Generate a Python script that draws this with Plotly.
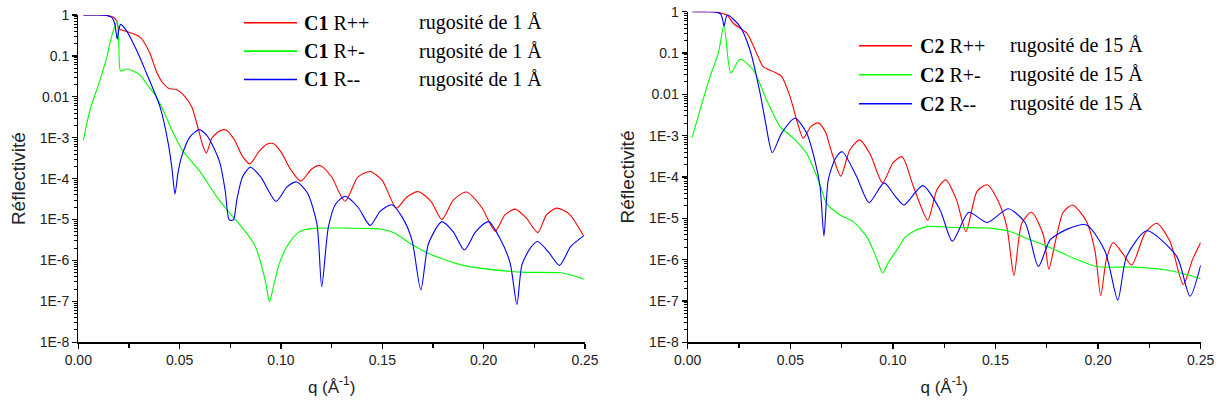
import plotly.graph_objects as go

# ---------------- data ----------------
# Left panel : C1, roughness 1 Å
c1_pp_q = [0.0025, 0.010, 0.015, 0.0175, 0.0190, 0.0198, 0.0210, 0.0250, 0.0305, 0.0350,
           0.0387, 0.0415, 0.0445, 0.0486, 0.0527, 0.0560, 0.0590, 0.0615, 0.0632, 0.0660,
           0.0700, 0.0729, 0.0770, 0.0810, 0.0847, 0.0890, 0.0930, 0.0962, 0.1000, 0.1050,
           0.1098, 0.1150, 0.1193, 0.1250, 0.1316, 0.1380, 0.1440, 0.1500, 0.1570, 0.1620,
           0.1678, 0.1740, 0.1794, 0.1850, 0.1914, 0.1990, 0.2057, 0.2105, 0.2155, 0.2210,
           0.2267, 0.2310, 0.2360, 0.2420, 0.2493]
c1_pp_r = [1.0, 1.0, 0.955, 0.871, 0.708, 0.479, 0.437, 0.380, 0.288, 0.126,
           0.0398, 0.0224, 0.0162, 0.0148, 0.0100, 0.00562, 0.00178, 6.3e-4, 4.2e-4, 1.0e-3,
           1.48e-3, 1.55e-3, 8.9e-4, 3.5e-4, 2.3e-4, 4.5e-4, 6.9e-4, 7.2e-4, 4.5e-4, 1.6e-4,
           8.7e-5, 1.7e-4, 2.1e-4, 1.1e-4, 2.8e-5, 1.1e-4, 1.5e-4, 8.9e-5, 1.9e-5, 3.5e-5,
           4.8e-5, 2.8e-5, 1.0e-5, 3.0e-5, 4.7e-5, 2.0e-5, 5.2e-6, 1.3e-5, 1.8e-5, 1.1e-5,
           4.8e-6, 1.3e-5, 1.9e-5, 1.4e-5, 4.0e-6]

c1_pm_q = [0.0025, 0.0058, 0.0107, 0.0140, 0.0156, 0.0175, 0.0192, 0.0200, 0.0209, 0.0239,
           0.0270, 0.0305, 0.0340, 0.0387, 0.0430, 0.0469, 0.0518, 0.0600, 0.0683, 0.0750,
           0.0831, 0.0870, 0.0897, 0.0925, 0.0943, 0.0960, 0.0987, 0.1015, 0.1045, 0.1090,
           0.1144, 0.1300, 0.1440, 0.1490, 0.1555, 0.1650, 0.1740, 0.1818, 0.1900, 0.1980,
           0.2180, 0.2378, 0.2440, 0.2493]
c1_pm_r = [8.7e-4, 4.8e-3, 0.0257, 0.0891, 0.204, 0.447, 0.724, 0.178, 0.0427, 0.0479,
           0.0427, 0.0339, 0.0200, 0.00977, 0.00355, 1.29e-3, 4.6e-4, 1.5e-4, 3.6e-5, 1.4e-5,
           4.6e-6, 2.4e-6, 1.0e-6, 2.8e-7, 9.8e-8, 2.0e-7, 7.1e-7, 1.6e-6, 2.9e-6, 5.0e-6,
           6.0e-6, 6.2e-6, 6.0e-6, 5.9e-6, 4.8e-6, 2.4e-6, 1.4e-6, 1.0e-6, 7.6e-7, 6.5e-7,
           5.2e-7, 5.0e-7, 4.3e-7, 3.5e-7]

c1_mm_q = [0.0025, 0.010, 0.014, 0.0165, 0.0180, 0.0192, 0.0200, 0.0209, 0.0240, 0.0271,
           0.0305, 0.0337, 0.0370, 0.0403, 0.0444, 0.0462, 0.0477, 0.0492, 0.0510, 0.0551,
           0.0596, 0.0635, 0.0666, 0.0700, 0.0725, 0.0745, 0.0765, 0.0782, 0.0810, 0.0849,
           0.0900, 0.0976, 0.1030, 0.1078, 0.1130, 0.1177, 0.1201, 0.1234, 0.1270, 0.1316,
           0.1380, 0.1440, 0.1490, 0.1547, 0.1600, 0.1646, 0.1690, 0.1728, 0.1794, 0.1850,
           0.1905, 0.1960, 0.2024, 0.2080, 0.2130, 0.2164, 0.2189, 0.2230, 0.2266, 0.2320,
           0.2374, 0.2430, 0.2493]
c1_mm_r = [1.0, 1.0, 0.977, 0.871, 0.603, 0.257, 0.447, 0.589, 0.398, 0.204,
           0.0891, 0.0372, 0.0151, 0.00575, 7.2e-4, 1.8e-4, 4.2e-5, 1.4e-4, 3.5e-4, 1.05e-3,
           1.58e-3, 1.12e-3, 6.0e-4, 2.3e-4, 5.0e-5, 9.8e-6, 9.8e-6, 3.0e-5, 1.1e-4, 1.9e-4,
           1.1e-4, 2.8e-5, 6.3e-5, 8.3e-5, 4.5e-5, 8.1e-6, 2.3e-7, 6.6e-6, 2.4e-5, 3.7e-5,
           2.0e-5, 7.2e-6, 1.6e-5, 2.3e-5, 1.1e-5, 3.2e-6, 1.9e-7, 2.6e-6, 8.9e-6, 5.0e-6,
           1.8e-6, 5.0e-6, 8.9e-6, 3.5e-6, 8.9e-7, 8.5e-8, 7.9e-7, 2.0e-6, 2.9e-6, 1.6e-6,
           7.6e-7, 2.2e-6, 4.0e-6]

# Right panel : C2, roughness 15 Å
c2_pp_q = [0.0022, 0.010, 0.0140, 0.0165, 0.0193, 0.0222, 0.0288, 0.0336, 0.0368, 0.0417,
           0.0458, 0.0499, 0.0531, 0.0563, 0.0600, 0.0636, 0.0670, 0.0705, 0.0746, 0.0790,
           0.0838, 0.0890, 0.0950, 0.1000, 0.1045, 0.1100, 0.1170, 0.1215, 0.1258, 0.1310,
           0.1356, 0.1410, 0.1460, 0.1510, 0.1555, 0.1590, 0.1628, 0.1676, 0.1733, 0.1760,
           0.1790, 0.1830, 0.1876, 0.1944, 0.1985, 0.2013, 0.2040, 0.2074, 0.2120, 0.2164,
           0.2230, 0.2286, 0.2350, 0.2415, 0.2460, 0.2500]
c2_pp_r = [1.0, 1.0, 0.977, 0.912, 0.813, 0.525, 0.302, 0.0977, 0.0468, 0.0355,
           0.0269, 0.00871, 0.0024, 8.7e-4, 1.66e-3, 2.04e-3, 1.26e-3, 3.5e-4, 1.05e-4, 4.5e-4,
           7.9e-4, 3.5e-4, 7.2e-5, 2.2e-4, 3.1e-4, 5.9e-5, 9.1e-6, 5.0e-5, 8.5e-5, 2.8e-5,
           4.8e-6, 4.5e-5, 6.5e-5, 2.8e-5, 6.3e-6, 4.1e-7, 7.6e-6, 1.4e-5, 4.0e-6, 5.9e-7,
           2.5e-6, 1.4e-5, 2.1e-5, 8.3e-6, 1.6e-6, 1.35e-7, 1.0e-6, 2.6e-6, 1.4e-6, 7.4e-7,
           4.5e-6, 7.6e-6, 2.8e-6, 2.5e-7, 1.0e-6, 2.6e-6]

c2_pm_q = [0.0022, 0.0060, 0.0109, 0.0149, 0.0177, 0.0210, 0.0255, 0.0320, 0.0385, 0.0450,
           0.0515, 0.0580, 0.0645, 0.0677, 0.0742, 0.0807, 0.0872, 0.0920, 0.0950, 0.0980,
           0.1019, 0.1060, 0.1100, 0.1165, 0.1300, 0.1473, 0.1570, 0.1650, 0.1733, 0.1879,
           0.1993, 0.2172, 0.2334, 0.2420, 0.2500]
c2_pm_r = [9.1e-4, 4.17e-3, 0.0269, 0.0977, 0.479, 0.0331, 0.0708, 0.0389, 0.00724, 1.66e-3,
           8.7e-4, 3.7e-4, 6.5e-5, 2.3e-5, 1.2e-5, 8.3e-6, 3.6e-6, 1.1e-6, 4.8e-7, 8.9e-7,
           1.7e-6, 3.5e-6, 4.8e-6, 6.3e-6, 6.0e-6, 5.8e-6, 4.8e-6, 3.3e-6, 2.3e-6, 1.1e-6,
           6.8e-7, 6.6e-7, 5.6e-7, 4.5e-7, 3.5e-7]

c2_mm_q = [0.0022, 0.010, 0.0140, 0.0160, 0.0170, 0.0177, 0.0193, 0.0255, 0.0304, 0.0352,
           0.0380, 0.0412, 0.0458, 0.0523, 0.0580, 0.0620, 0.0645, 0.0664, 0.0685, 0.0720,
           0.0753, 0.0824, 0.0884, 0.0957, 0.1010, 0.1054, 0.1145, 0.1230, 0.1290, 0.1370,
           0.1460, 0.1562, 0.1644, 0.1709, 0.1766, 0.1847, 0.1944, 0.2034, 0.2096, 0.2139,
           0.2237, 0.2383, 0.2448, 0.2500]
c2_mm_r = [1.0, 1.0, 0.977, 0.891, 0.661, 0.447, 0.832, 0.437, 0.117, 0.0112,
           0.002, 3.9e-4, 1.15e-3, 2.63e-3, 1.15e-3, 2.5e-4, 5.9e-5, 3.7e-6, 8.5e-5, 2.8e-4,
           4.1e-4, 1.0e-4, 2.4e-5, 7.2e-5, 3.5e-5, 2.1e-5, 6.2e-5, 1.6e-5, 2.8e-6, 1.4e-5,
           7.9e-6, 1.7e-5, 7.9e-6, 6.8e-7, 3.0e-6, 5.4e-6, 6.9e-6, 1.6e-6, 1.05e-7, 1.2e-6,
           5.0e-6, 1.2e-6, 1.3e-7, 7.4e-7]

x_ticks = [0.0, 0.05, 0.10, 0.15, 0.20, 0.25]
x_ticktext = ["0.00", "0.05", "0.10", "0.15", "0.20", "0.25"]
y_ticks = [1, 1e-1, 1e-2, 1e-3, 1e-4, 1e-5, 1e-6, 1e-7, 1e-8]
y_ticktext = ["1", "0.1", "0.01", "1E-3", "1E-4", "1E-5", "1E-6", "1E-7", "1E-8"]
y_minor = [k * 10.0 ** e for e in range(-8, 0) for k in range(2, 10)]

series_left = ["<b>C1</b> R++", "<b>C1</b> R+-", "<b>C1</b> R--"]
series_right = ["<b>C2</b> R++", "<b>C2</b> R+-", "<b>C2</b> R--"]
roughness_left = "rugosité de 1 Å"
roughness_right = "rugosité de 15 Å"

# ---------------- figure ----------------
# the page's body margin is removed (see post_script), so the figure fills the window
OFF = 0
W, H = 1221, 409
COLORS = ["#FF0000", "#00FF00", "#0000FF"]
SANS = "Liberation Sans, Arial, sans-serif"
SERIF = "Liberation Serif, Times New Roman, serif"

fig = go.Figure()

def add(q, r, name, color, xa, ya):
    fig.add_trace(go.Scatter(
        x=q, y=r, name=name, mode="lines", showlegend=False,
        line=dict(color=color, width=1.1, shape="spline", smoothing=0.7),
        xaxis=xa, yaxis=ya))

add(c1_pp_q, c1_pp_r, series_left[0], COLORS[0], "x", "y")
add(c1_pm_q, c1_pm_r, series_left[1], COLORS[1], "x", "y")
add(c1_mm_q, c1_mm_r, series_left[2], COLORS[2], "x", "y")
add(c2_pp_q, c2_pp_r, series_right[0], COLORS[0], "x2", "y2")
add(c2_pm_q, c2_pm_r, series_right[1], COLORS[1], "x2", "y2")
add(c2_mm_q, c2_mm_r, series_right[2], COLORS[2], "x2", "y2")

def px_x(p):
    return (p - OFF) / W

def px_y(p):
    return 1 - (p - OFF) / H

xcommon = dict(range=[0, 0.25], tickvals=x_ticks, ticktext=x_ticktext,
               showline=True, linecolor="black", linewidth=1.2,
               ticks="outside", ticklen=5, tickwidth=1.2, tickcolor="black",
               showgrid=False, zeroline=False, automargin=False, ticklabeloverflow="allow",
               tickfont=dict(family=SANS, size=14, color="#222"),
               minor=dict(dtick=0.025, ticks="outside", ticklen=4, tickwidth=1.2,
                          tickcolor="black", showgrid=False),
               title=dict(text="q (Å<sup>-1</sup>)", font=dict(family=SANS, size=17, color="#222"),
                          standoff=13))
ycommon = dict(type="log", range=[-8, 0], tickvals=y_ticks, ticktext=y_ticktext,
               showline=True, linecolor="black", linewidth=1.2,
               ticks="outside", ticklen=5, tickwidth=1.2, tickcolor="black",
               showgrid=False, zeroline=False, automargin=False, ticklabeloverflow="allow",
               tickfont=dict(family=SANS, size=14, color="#222"),
               minor=dict(tickvals=y_minor, ticks="outside", ticklen=3, tickwidth=1,
                          tickcolor="black", showgrid=False),
               title=dict(text="Réflectivité", font=dict(family=SANS, size=19, color="#222"),
                          standoff=9))

xa1 = dict(xcommon); xa1.update(domain=[px_x(78.3), px_x(585)], anchor="y")
xa2 = dict(xcommon); xa2.update(domain=[px_x(687.7), px_x(1200.7)], anchor="y2")
ya1 = dict(ycommon); ya1.update(domain=[px_y(342.3), px_y(15)], anchor="x")
ya2 = dict(ycommon); ya2.update(domain=[px_y(342.3), px_y(11.7)], anchor="x2")

# legend boxes (key line + series name + roughness), one per panel
legends = [
    dict(names=series_left, note=roughness_left, key_x0=244, key_x1=297,
         name_x=302, note_x=417, row0=22.7, step=28.4),
    dict(names=series_right, note=roughness_right, key_x0=859, key_x1=912,
         name_x=918, note_x=1008, row0=45.7, step=29.0),
]
annotations, shapes = [], []
font20 = dict(family=SERIF, size=20, color="black")
for lg in legends:
    for i, name in enumerate(lg["names"]):
        row = lg["row0"] + lg["step"] * i
        shapes.append(dict(type="line", xref="paper", yref="paper",
                           x0=px_x(lg["key_x0"]), x1=px_x(lg["key_x1"]),
                           y0=px_y(row), y1=px_y(row),
                           line=dict(color=COLORS[i], width=1.6)))
        annotations.append(dict(text=name, x=px_x(lg["name_x"]), y=px_y(row),
                                xref="paper", yref="paper", xanchor="left", yanchor="middle",
                                showarrow=False, font=font20))
        annotations.append(dict(text=lg["note"], x=px_x(lg["note_x"]), y=px_y(row),
                                xref="paper", yref="paper", xanchor="left", yanchor="middle",
                                showarrow=False, font=font20))

fig.update_layout(
    width=W, height=H, margin=dict(l=0, r=0, t=0, b=0, autoexpand=False),
    paper_bgcolor="white", plot_bgcolor="white",
    xaxis=xa1, xaxis2=xa2, yaxis=ya1, yaxis2=ya2,
    annotations=annotations, shapes=shapes,
    showlegend=False,
)

no_body_margin = "document.body.style.margin = '0px'; document.body.style.overflow = 'hidden';"

fig.write_html("out.html", post_script=no_body_margin,
               config={"displayModeBar": False, "staticPlot": True})
